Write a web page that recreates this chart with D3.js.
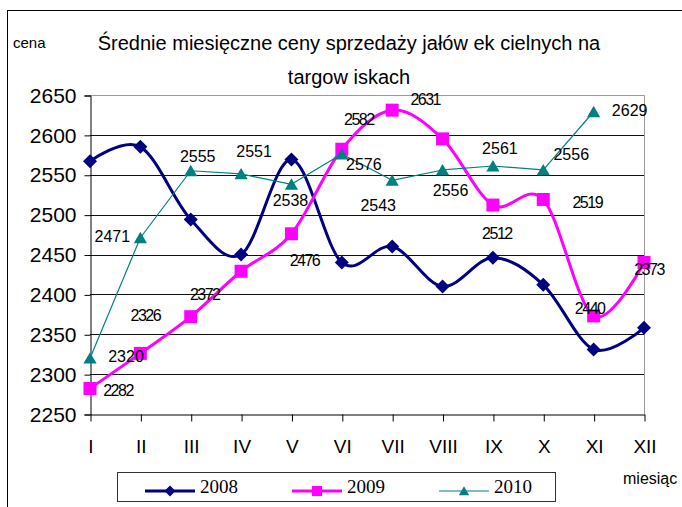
<!DOCTYPE html>
<html>
<head>
<meta charset="utf-8">
<script src="https://cdn.jsdelivr.net/npm/d3@7"></script>
<style>
body { margin: 0; background: #fff; }
svg { display: block; }
</style>
</head>
<body>
<script>
var months = ['I', 'II', 'III', 'IV', 'V', 'VI', 'VII', 'VIII', 'IX', 'X', 'XI', 'XII'];
var yTicks = [2250, 2300, 2350, 2400, 2450, 2500, 2550, 2600, 2650];

var values2008 = [2567, 2585, 2494, 2450, 2569, 2440, 2460, 2410, 2446, 2412, 2331, 2358];
var values2009 = [2282, 2326, 2372, 2429, 2476, 2582, 2631, 2595, 2512, 2519, 2373, 2440];
var values2010 = [2320, 2471, 2555, 2551, 2538, 2576, 2543, 2556, 2561, 2556, 2629, null];

var labels2009 = ['2282', '2326', '2372', null, '2476', '2582', '2631', null, '2512', '2519', '2440', '2373'];
var labels2010 = ['2320', '2471', '2555', '2551', '2538', '2576', '2543', '2556', '2561', '2556', '2629', null];

var seriesNames = ['2008', '2009', '2010'];

var w = 682,
    h = 507;

var plotLeft = 90, plotRight = 644, plotTop = 95, plotBottom = 414;

var svg = d3.select('body')
            .append('svg')
            .attr('width', w)
            .attr('height', h);

var x = d3.scalePoint().domain(months).range([plotLeft, plotRight]);
var y = d3.scaleLinear().domain([2250, 2650]).range([plotBottom, plotTop]);

// outer frame (right/bottom fall outside the picture)
svg.append('rect')
    .attr('x', 7.5).attr('y', 10.5)
    .attr('width', 700).attr('height', 520)
    .attr('fill', 'none').attr('stroke', '#000');

// grid
svg.append('g')
    .selectAll('line')
    .data(yTicks.slice(1, -1))
    .enter()
    .append('line')
    .attr('x1', plotLeft).attr('x2', plotRight)
    .attr('y1', function(d) { return Math.round(y(d)) + 0.5; })
    .attr('y2', function(d) { return Math.round(y(d)) + 0.5; })
    .attr('stroke', '#111');

svg.append('path')
    .attr('d', 'M' + plotLeft + ',' + (plotTop + 0.5) + 'H' + (plotRight + 0.5) + 'V' + plotBottom)
    .attr('fill', 'none')
    .attr('stroke', '#999');

var yAxis = svg.append('g')
    .attr('transform', 'translate(' + (plotLeft + 0.5) + ',0.5)')
    .call(d3.axisLeft(y).tickValues(yTicks).tickSize(6).tickPadding(8).tickFormat(d3.format('d')));
yAxis.select('.domain').attr('stroke', '#000');
yAxis.selectAll('text')
    .attr('font-family', '"Liberation Sans", Arial, sans-serif')
    .attr('font-size', 21)
    .attr('fill', '#000');

var xAxis = svg.append('g')
    .attr('transform', 'translate(0.5,' + (plotBottom + 0.5) + ')')
    .call(d3.axisBottom(x).tickSize(7).tickPadding(18).tickSizeOuter(0));
xAxis.select('.domain').attr('stroke', '#000');
xAxis.selectAll('text')
    .attr('font-family', '"Liberation Sans", Arial, sans-serif')
    .attr('font-size', 19)
    .attr('fill', '#000');

var smooth = d3.line()
    .defined(function(d) { return d.v != null; })
    .x(function(d) { return x(d.m); })
    .y(function(d) { return y(d.v); })
    .curve(d3.curveCardinal.tension(0));

var straight = d3.line()
    .defined(function(d) { return d.v != null; })
    .x(function(d) { return x(d.m); })
    .y(function(d) { return y(d.v); });

function pts(vals) {
    var data = [];
    for (var i = 0; i < months.length; i++) {
        data.push({ m: months[i], v: vals[i] });
    }
    return data;
}

var diamond = function(s) { return 'M0,' + (-s) + 'L' + s + ',0L0,' + s + 'L' + (-s) + ',0Z'; };
var square = function(s) { return 'M' + (-s) + ',' + (-s) + 'H' + s + 'V' + s + 'H' + (-s) + 'Z'; };
var triangle = function(s) { return 'M0,' + (-s) + 'L' + (s * 1.1) + ',' + (s * 0.9) + 'L' + (-s * 1.1) + ',' + (s * 0.9) + 'Z'; };

var series = [
    { name: seriesNames[0], vals: values2008, color: '#000080', width: 3, line: smooth, marker: diamond, size: 7 },
    { name: seriesNames[1], vals: values2009, color: '#ff00ff', width: 3, line: smooth, marker: square, size: 6.5 },
    { name: seriesNames[2], vals: values2010, color: '#008080', width: 1.2, line: straight, marker: triangle, size: 6 }
];

series.forEach(function(s) {
    var data = pts(s.vals);
    svg.append('path')
        .datum(data)
        .attr('d', s.line)
        .attr('fill', 'none')
        .attr('stroke', s.color)
        .attr('stroke-width', s.width)
        .attr('stroke-linejoin', 'round');
    svg.append('g')
        .selectAll('path')
        .data(data.filter(function(d) { return d.v != null; }))
        .enter()
        .append('path')
        .attr('d', s.marker(s.size))
        .attr('transform', function(d) { return 'translate(' + x(d.m) + ',' + y(d.v) + ')'; })
        .attr('fill', s.color);
});

// data labels, nudged as in the original
var off2009 = [[28, 8], [5, -32], [14, -17], null, [13, 32], [17, -24], [33, -5], null, [4, 34], [44, 9], [-4, -2], [5, 13]];
var off2010 = [[36, 4], [-28, 4], [7, -9], [13, -17], [-1, 22], [22, 16], [-14, 31], [8, 26], [7, -12], [28, -10], [36, 4], null];

function drawLabels(vals, labels, offs, spacing) {
    svg.append('g')
        .selectAll('text')
        .data(months.map(function(m, i) { return { m: m, v: vals[i], t: labels[i], o: offs[i] }; })
                    .filter(function(d) { return d.t != null; }))
        .enter()
        .append('text')
        .attr('x', function(d) { return x(d.m) + d.o[0]; })
        .attr('y', function(d) { return y(d.v) + d.o[1]; })
        .attr('text-anchor', 'middle')
        .attr('font-family', '"Liberation Sans", Arial, sans-serif')
        .attr('font-size', 16)
        .attr('letter-spacing', spacing)
        .attr('fill', '#000')
        .text(function(d) { return d.t; });
}
drawLabels(values2009, labels2009, off2009, -1.5);
drawLabels(values2010, labels2010, off2010, 0);

// title and axis names
var title = svg.append('text')
    .attr('text-anchor', 'middle')
    .attr('font-family', '"Liberation Sans", Arial, sans-serif')
    .attr('font-size', 20)
    .attr('fill', '#000');
title.append('tspan').attr('x', 349).attr('y', 50).text('Średnie miesięczne ceny sprzedaży jałów ek cielnych na');
title.append('tspan').attr('x', 349).attr('y', 84).text('targow iskach');

svg.append('text')
    .attr('x', 13).attr('y', 48)
    .attr('font-family', '"Liberation Sans", Arial, sans-serif')
    .attr('font-size', 15)
    .text('cena');

svg.append('text')
    .attr('x', 623).attr('y', 484)
    .attr('font-family', '"Liberation Sans", Arial, sans-serif')
    .attr('font-size', 16)
    .text('miesiąc');

// legend
var legend = svg.append('g');
legend.append('rect')
    .attr('x', 117.5).attr('y', 472.5)
    .attr('width', 438).attr('height', 29)
    .attr('fill', '#fff')
    .attr('stroke', '#333');

var legX = [145, 292, 439];
var item = legend.selectAll('g.item')
    .data(series)
    .enter()
    .append('g')
    .attr('transform', function(d, i) { return 'translate(' + legX[i] + ',491)'; });
item.append('line')
    .attr('x1', 0).attr('x2', 50)
    .attr('stroke', function(d) { return d.color; })
    .attr('stroke-width', function(d) { return d.width; });
item.append('path')
    .attr('d', function(d) { return d.marker(d.size * 0.78); })
    .attr('transform', 'translate(25,0)')
    .attr('fill', function(d) { return d.color; });
item.append('text')
    .attr('x', 55).attr('y', 2)
    .attr('font-family', '"Liberation Serif", "Times New Roman", serif')
    .attr('font-size', 19)
    .text(function(d) { return d.name; });
</script>
</body>
</html>
